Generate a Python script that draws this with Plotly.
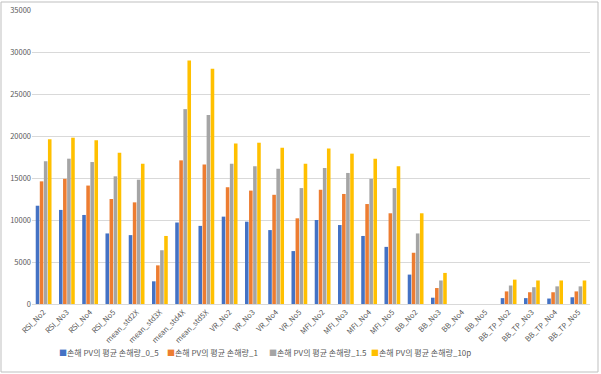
import plotly.graph_objects as go

categories = ["RSI_No2", "RSI_No3", "RSI_No4", "RSI_No5",
              "mean_std2X", "mean_std3X", "mean_std4X", "mean_std5X",
              "VR_No2", "VR_No3", "VR_No4", "VR_No5",
              "MFI_No2", "MFI_No3", "MFI_No4", "MFI_No5",
              "BB_No2", "BB_No3", "BB_No4", "BB_No5",
              "BB_TP_No2", "BB_TP_No3", "BB_TP_No4", "BB_TP_No5"]

s_0_5 = [11700, 11200, 10600, 8400, 8200, 2700, 9700, 9300,
         10400, 9800, 8800, 6300, 10000, 9400, 8100, 6800,
         3500, 750, 0, 0, 700, 700, 650, 800]
s_1 = [14600, 14900, 14100, 12500, 12100, 4600, 17100, 16600,
       13900, 13500, 13000, 10200, 13600, 13100, 11900, 10800,
       6100, 1900, 0, 0, 1500, 1400, 1400, 1500]
s_1_5 = [17000, 17300, 16900, 15200, 14800, 6400, 23200, 22500,
         16700, 16400, 16100, 13800, 16200, 15600, 14900, 13800,
         8400, 2800, 0, 0, 2200, 2000, 2100, 2100]
s_10p = [19600, 19800, 19500, 18000, 16700, 8100, 29000, 28000,
         19100, 19200, 18600, 16700, 18500, 17900, 17300, 16400,
         10800, 3700, 0, 0, 2900, 2800, 2800, 2800]

series_names = ["손해 PV의 평균 손해량_0_5", "손해 PV의 평균 손해량_1",
                "손해 PV의 평균 손해량_1.5", "손해 PV의 평균 손해량_10p"]
series_values = [s_0_5, s_1, s_1_5, s_10p]
colors = ["#4472C4", "#ED7D31", "#A5A5A5", "#FFC000"]

y_ticks = [0, 5000, 10000, 15000, 20000, 25000, 30000, 35000]

FONT = "Noto Sans CJK KR, Malgun Gothic, sans-serif"

W, H = 601, 374
ML, MR, MT, MB = 32, 11, 10, 70
PW, PH = W - ML - MR, H - MT - MB

fig = go.Figure()
for name, vals, c in zip(series_names, series_values, colors):
    fig.add_trace(go.Bar(x=categories, y=vals, name=name, marker_color=c,
                         marker_line_width=0, showlegend=False))

fig.update_layout(
    width=W, height=H,
    margin=dict(l=ML, r=MR, t=MT, b=MB, autoexpand=False),
    paper_bgcolor="white", plot_bgcolor="white",
    barmode="group", bargap=0.3, bargroupgap=0.12,
    font=dict(family=FONT, size=8, color="#595959"),
    showlegend=False,
    xaxis=dict(tickangle=-45, showline=True, linecolor="#d9d9d9", linewidth=1,
               ticks="", tickfont=dict(size=7.5, color="#595959"),
               showgrid=False, automargin=False),
    yaxis=dict(range=[0, 35000], tickvals=y_ticks, ticktext=[str(v) for v in y_ticks],
               showgrid=True, gridcolor="#d9d9d9", gridwidth=1, zeroline=False,
               showline=False, ticks="", tickfont=dict(size=7.5, color="#595959"),
               automargin=False),
)

# manual legend (Excel style: small square + text)
legend_x = [57, 165, 267, 369]
for name, c, lx in zip(series_names, colors, legend_x):
    fig.add_annotation(
        xref="paper", yref="paper",
        x=(lx - ML) / PW, y=-(352 - (MT + PH)) / PH,
        xanchor="left", yanchor="middle", showarrow=False,
        text=f"<span style='color:{c}'>■</span>{name}",
        font=dict(family=FONT, size=8, color="#595959"),
    )

fig.add_shape(type="rect", xref="paper", yref="paper",
              x0=-(ML - 1) / PW, x1=1 + (MR - 3) / PW,
              y0=-(MB - 2) / PH, y1=1 + (MT - 2) / PH,
              line=dict(color="#bfbfbf", width=1))

fig.write_html("out.html", config={"displayModeBar": False},
               post_script="document.body.style.margin='0';")
